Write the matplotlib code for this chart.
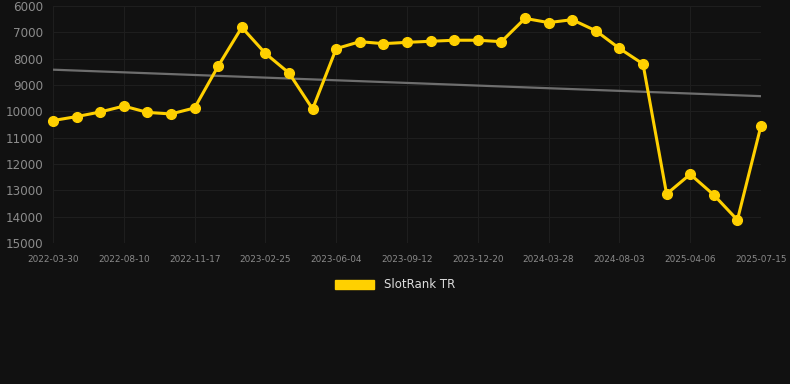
import numpy as np
import matplotlib.pyplot as plt

dates = ['2022-03-30', '2022-05-13', '2022-06-26', '2022-08-10', '2022-09-15', '2022-10-20',
         '2022-11-17', '2022-12-20', '2023-01-22', '2023-02-25', '2023-03-30', '2023-05-02',
         '2023-06-04', '2023-07-07', '2023-08-10', '2023-09-12', '2023-10-15', '2023-11-17',
         '2023-12-20', '2024-01-22', '2024-02-24', '2024-03-28', '2024-05-10', '2024-06-22',
         '2024-08-03', '2024-10-25', '2025-01-15', '2025-04-06', '2025-05-12', '2025-06-13',
         '2025-07-15']
ranks = [10350, 10200, 10025, 9800, 10040, 10100, 9870, 8280, 6810, 7800, 8545, 9910,
         7620, 7355, 7430, 7380, 7340, 7300, 7300, 7355, 6470, 6630, 6520, 6940,
         7610, 8200, 13140, 12390, 13175, 14125, 10545]
label_every = 3

bg = '#111111'
fig = plt.figure(figsize=(7.9, 3.84), dpi=100, facecolor=bg)
ax = fig.add_axes([53 / 790, 1 - 243 / 384, (761 - 53) / 790, (243 - 6) / 384])
ax.set_facecolor(bg)

x = np.arange(len(ranks))
# trend line = least squares fit of the rank series
slope, icpt = np.polyfit(x, ranks, 1)
ax.plot(x, slope * x + icpt, color='#6e6e6e', lw=1.6, zorder=2)
ax.plot(x, ranks, color='#ffd000', lw=2.2, marker='o', markersize=7,
        clip_on=False, zorder=3, label='SlotRank TR')

ax.set_xlim(0, len(ranks) - 1)
ax.set_ylim(15000, 6000)
ax.set_yticks(range(6000, 15001, 1000))
ticks = x[::label_every]
ax.set_xticks(ticks)
ax.set_xticklabels([dates[i] for i in ticks])

ax.grid(True, color='#1e1e1e', lw=0.8)
for s in ax.spines.values():
    s.set_visible(False)
ax.tick_params(axis='y', colors='#8c8c8c', labelsize=8.6, length=0, pad=7)
ax.tick_params(axis='x', colors='#8a8a8a', labelsize=6.4, length=0, pad=9)

leg = fig.legend(handles=[plt.Rectangle((0, 0), 1, 1, color='#ffd000')],
                 labels=['SlotRank TR'], loc='center', bbox_to_anchor=(395 / 790, 1 - 285 / 384),
                 frameon=False, handlelength=3.3, handleheight=0.9, fontsize=8.5)
for t in leg.get_texts():
    t.set_color('#dddddd')

fig.savefig('out.png', dpi=100, facecolor=bg)
